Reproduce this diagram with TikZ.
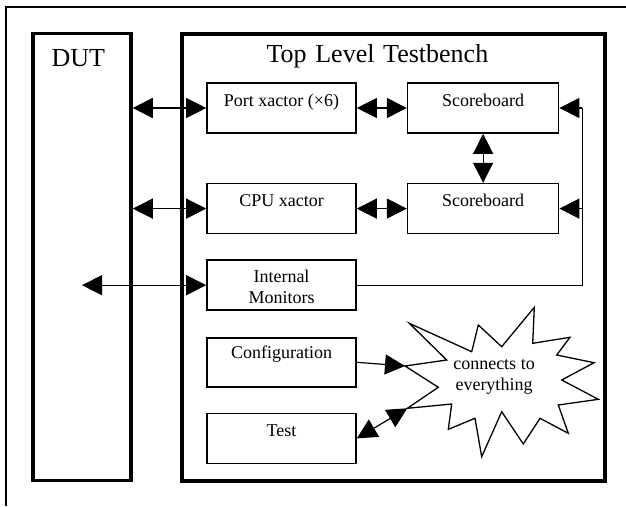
\documentclass[tikz,border=0pt]{standalone}
\usepackage{fontspec}
\setmainfont{Liberation Serif}
\usetikzlibrary{arrows.meta,positioning}
\newcommand{\bigtext}{\fontsize{26}{30}\selectfont}
\newcommand{\smalltext}{\fontsize{18}{21}\selectfont}

\begin{document}
\begin{tikzpicture}[x=1pt, y=-1pt]
    % Define styles
    \tikzstyle{frame} = [line width=1.5pt]
    \tikzstyle{block} = [rectangle, draw=black, line width=3.5pt, minimum width=98pt, minimum height=447pt, inner ysep=6pt, align=left, font=\bigtext]
    \tikzstyle{unit} = [rectangle, draw=black, line width=1.6pt, minimum width=149pt, inner xsep=2pt, inner ysep=4pt, text height=19pt, text depth=23pt, align=center, font=\smalltext]
    \tikzstyle{duplex} = [line width=1.2pt, {Triangle[length=20pt,width=20pt]}-{Triangle[length=20pt,width=20pt]}]
    \tikzstyle{arrow} = [line width=1.2pt, -{Triangle[length=20pt,width=20pt]}]
    \tikzstyle{bus} = [line width=1.2pt]
    \tikzstyle{burst} = [line width=1.3pt]

    \useasboundingbox (0,0) rectangle (626,506);
    \draw [frame] (6,506) |- (626,7);

    % Nodes
    \node [block, inner xsep=18.5pt, text width=61pt, text height=27pt, text depth=408pt] (dut) at (82,257) {DUT};
    \node [block, minimum width=423pt, inner xsep=84.5pt, text width=254pt, text height=23pt, text depth=412pt] (bench) at (393.6,257.3) {Top Level Testbench};
    \node [unit] (port) at (281.5,108) {Port xactor (×6)};
    \node [unit, minimum width=151pt, right=50pt of port] (sb1) {Scoreboard};
    \node [unit, below=49pt of port] (cpu) {CPU xactor};
    \node [unit, minimum width=151pt, right=50pt of cpu] (sb2) {Scoreboard};
    \node [unit, below=25pt of cpu, text height=39pt, text depth=3pt] (mon) {Internal\\Monitors};
    \node [unit, below=26pt of mon, text height=17pt, text depth=24pt] (cfg) {Configuration};
    \node [unit, below=25pt of cfg] (test) {Test};

    % Starburst
    \coordinate (spike cfg) at (405,366);
    \coordinate (spike test) at (407.3,408.3);
    \draw [burst] (409.3,323.3) -- (471.7,351.7) -- (478.3,325) -- (501.7,346.7) -- (534.3,307.3) -- (532.7,343.3) -- (570,337.3) -- (556.7,355) -- (594,362.7) -- (561.7,380) -- (598.3,399.3) -- (558.3,405) -- (568.3,433.3) -- (540,418.3) -- (523.3,444) -- (501.7,411.7) -- (481.7,456.7) -- (475,418.3) -- (448.3,429.3) -- (451.7,404) -- (spike test) -- (438.3,387.3) -- (spike cfg) -- (446.7,360) -- cycle;
    \node [font=\smalltext, align=center, inner sep=0pt] (note) at (494,377) {connects to\\everything};

    % Arrows
    \draw [duplex] (dut.east |- port.west) -- (port.west);
    \draw [duplex] (dut.east |- cpu.west) -- (cpu.west);
    \draw [duplex] (dut.center |- mon.west) -- (mon.west);
    \draw [duplex] (port) -- (sb1);
    \draw [duplex] (cpu) -- (sb2);
    \draw [duplex] (sb1) -- (sb2);
    \coordinate [right=23pt of sb1.east] (tap1);
    \coordinate [right=23pt of sb2.east] (tap2);
    \draw [bus] (mon.east) -| (tap1);
    \draw [arrow] (tap1) -- (sb1.east);
    \draw [arrow] (tap2) -- (sb2.east);
    \draw [arrow] (cfg.east) -- (spike cfg);
    \draw [duplex] (test.east) -- (spike test);

\end{tikzpicture}
\end{document}
